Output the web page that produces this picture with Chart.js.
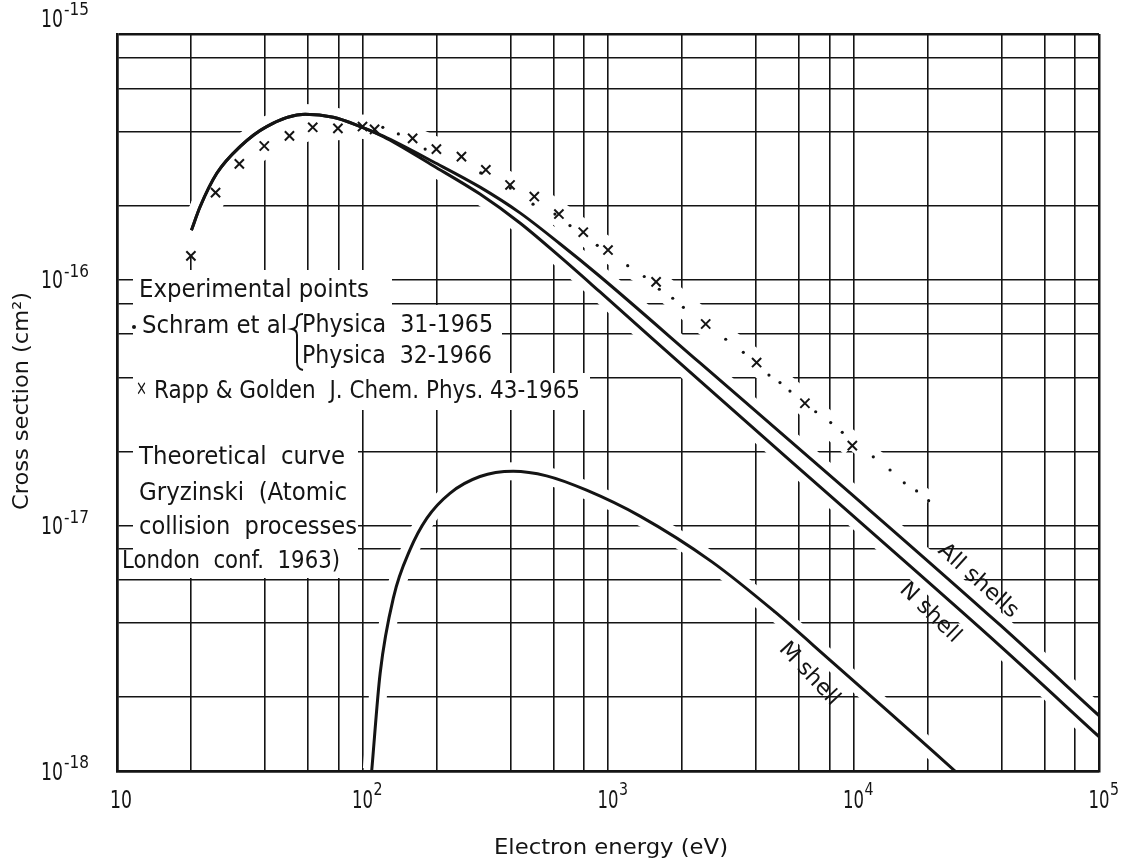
<!DOCTYPE html>
<html>
<head>
<meta charset="utf-8">
<script src="https://cdn.jsdelivr.net/npm/chart.js@4/dist/chart.umd.min.js"></script>
<style>
html,body{margin:0;padding:0;background:#fff;}
#wrap{width:1125px;height:864px;position:relative;}
</style>
</head>
<body>
<div id="wrap"><canvas id="c" width="1125" height="864"></canvas></div>
<script>
// ---- grid / tick values ----
const xGridValues = [10,20,40,60,80,100,200,400,600,800,1000,2000,4000,6000,8000,10000,20000,40000,60000,80000,100000];
const yGridValues = [1e-18,2e-18,4e-18,6e-18,8e-18,1e-17,2e-17,4e-17,6e-17,8e-17,1e-16,2e-16,4e-16,6e-16,8e-16,1e-15];
const xLabelValues = [10,100,1000,10000,100000];
const xLabelExps = ['', '2', '3', '4', '5'];
const yLabelValues = [1e-15,1e-16,1e-17,1e-18];
const yLabelExps = ['-15','-16','-17','-18'];

// ---- theoretical curves (Gryzinski) ----
const allShellsE = [20.1, 21.8, 25.5, 31.7, 40.7, 58.4, 76, 94.6, 121.6, 194, 301, 438, 637, 928, 2370, 9676, 39520, 100000];
const allShellsS = [1.59e-16, 1.98e-16, 2.71e-16, 3.48e-16, 4.2e-16, 4.71e-16, 4.58e-16, 4.26e-16, 3.84e-16, 3.02e-16, 2.38e-16, 1.87e-16, 1.40e-16, 1.03e-16, 4.58e-17, 1.355e-17, 3.93e-18, 1.68e-18];

const nShellE = [20.1, 21.8, 25.5, 31.7, 40.7, 58.4, 76, 94.6, 121.6, 194, 301, 438, 637, 928, 2370, 9676, 39520, 100000];
const nShellS = [1.59e-16, 1.98e-16, 2.71e-16, 3.48e-16, 4.2e-16, 4.71e-16, 4.58e-16, 4.26e-16, 3.82e-16, 2.91e-16, 2.23e-16, 1.70e-16, 1.24e-16, 8.91e-17, 3.87e-17, 1.12e-17, 3.23e-18, 1.38e-18];

const mShellE = [109, 118, 134, 156, 183, 227, 301, 411, 562, 818, 1350, 2652, 4788, 8022, 14210, 25910];
const mShellS = [1e-18, 2.5e-18, 5.13e-18, 7.94e-18, 1.07e-17, 1.35e-17, 1.58e-17, 1.66e-17, 1.59e-17, 1.39e-17, 1.09e-17, 7.1e-18, 4.44e-18, 2.83e-18, 1.71e-18, 1e-18];

// ---- experimental points ----
const rappE = [20, 25.2, 31.5, 39.8, 50.4, 62.7, 79.4, 100, 112, 160, 200, 253, 318, 399, 501, 631, 793, 1000, 1570, 2500, 4030, 6340, 9890];
const rappS = [1.25e-16, 2.26e-16, 2.96e-16, 3.5e-16, 3.85e-16, 4.17e-16, 4.13e-16, 4.2e-16, 4.09e-16, 3.76e-16, 3.4e-16, 3.17e-16, 2.8e-16, 2.43e-16, 2.18e-16, 1.85e-16, 1.56e-16, 1.32e-16, 9.8e-17, 6.6e-17, 4.6e-17, 3.14e-17, 2.11e-17];

const schramE = [121, 140, 180, 303, 400, 495, 608, 700, 904, 1203, 1405, 1618, 1835, 2028, 3016, 3558, 4525, 5018, 5510, 7015, 8075, 9000, 12040, 14090, 16100, 18070, 20230];
const schramS = [4.17e-16, 3.92e-16, 3.4e-16, 2.72e-16, 2.36e-16, 2.03e-16, 1.85e-16, 1.66e-16, 1.38e-16, 1.14e-16, 1.03e-16, 9.14e-17, 8.4e-17, 7.72e-17, 5.72e-17, 5.06e-17, 4.09e-17, 3.81e-17, 3.52e-17, 2.9e-17, 2.62e-17, 2.39e-17, 1.9e-17, 1.68e-17, 1.49e-17, 1.38e-17, 1.26e-17];

// ---- texts ----
const xTitle = 'Electron energy (eV)';
const yTitle = 'Cross section (cm\u00B2)';
const legendExp = 'Experimental points';
const legendSchram = 'Schram et al';
const legendPhys1 = 'Physica  31-1965';
const legendPhys2 = 'Physica  32-1966';
const legendRapp = 'Rapp & Golden  J. Chem. Phys. 43-1965';
const theoryLines = ['Theoretical  curve', 'Gryzinski  (Atomic', 'collision  processes', 'London  conf.  1963)'];
const curveLabels = ['All shells', 'N shell', 'M shell'];

const FONT = '"DejaVu Sans Condensed", "DejaVu Sans", sans-serif';
const INK = '#141414';

const pts = (xs, ys) => xs.map((x, i) => ({x: x, y: ys[i]}));

function fitText(ctx, txt, x, y, w, size, align, rot) {
  ctx.save();
  ctx.font = size + 'px ' + FONT;
  const m = ctx.measureText(txt).width;
  const sx = w ? w / m : 1;
  ctx.translate(x, y);
  if (rot) ctx.rotate(rot);
  ctx.scale(sx, 1);
  ctx.textBaseline = 'middle';
  ctx.textAlign = align || 'left';
  ctx.fillStyle = INK;
  ctx.fillText(txt, 0, 0);
  ctx.restore();
}

const decorPlugin = {
  id: 'decor',
  beforeDatasetsDraw(chart) {
    const ctx = chart.ctx;
    ctx.save();
    ctx.fillStyle = '#fff';
    // clear grid behind legend text blocks
    ctx.fillRect(133, 270, 225, 308);
    ctx.fillRect(358, 270, 34, 140);
    ctx.fillRect(392, 305, 110, 105);
    ctx.fillRect(502, 373, 88, 37);
    ctx.restore();
  },
  afterDraw(chart) {
    const ctx = chart.ctx;
    const xs = chart.scales.x, ys = chart.scales.y;
    // x tick labels
    xLabelValues.forEach((v, i) => {
      const px = xs.getPixelForValue(v);
      const e = xLabelExps[i];
      const yb = 801;
      if (!e) {
        fitText(ctx, '10', px + 4, yb, 22, 25, 'center');
      } else {
        fitText(ctx, '10', px, yb, 21, 25, 'center');
        fitText(ctx, e, px + 11, yb - 10, 9, 17, 'left');
      }
    });
    // y tick labels
    yLabelValues.forEach((v, i) => {
      const py = ys.getPixelForValue(v);
      const yc = (py < chart.chartArea.top + 5) ? py - 14 : py + 2;
      const e = yLabelExps[i];
      fitText(ctx, e, 89, yc - 9, 25, 17, 'right');
      fitText(ctx, '10', 63, yc, 22, 25, 'right');
    });
    // axis titles
    fitText(ctx, xTitle, 611, 848, 234, 22, 'center');
    fitText(ctx, yTitle, 22, 401, 218, 22, 'center', -Math.PI / 2);

    // legend block
    fitText(ctx, legendExp, 139, 291, 230, 24, 'left');
    ctx.save();
    ctx.fillStyle = INK;
    ctx.beginPath(); ctx.arc(134, 327, 2, 0, Math.PI * 2); ctx.fill();
    ctx.restore();
    fitText(ctx, legendSchram, 142, 327, 145, 24, 'left');
    // brace
    ctx.save();
    ctx.strokeStyle = INK; ctx.lineWidth = 2;
    ctx.beginPath();
    ctx.moveTo(303, 314);
    ctx.quadraticCurveTo(297, 314, 297, 320);
    ctx.lineTo(297, 324);
    ctx.quadraticCurveTo(297, 328, 292, 329);
    ctx.quadraticCurveTo(297, 330, 297, 335);
    ctx.lineTo(297, 362);
    ctx.quadraticCurveTo(297, 369, 303, 370);
    ctx.stroke();
    ctx.restore();
    fitText(ctx, legendPhys1, 302, 326, 191, 24, 'left');
    fitText(ctx, legendPhys2, 302, 357, 190, 24, 'left');
    fitText(ctx, '\u00D7', 136, 389, 11, 22, 'left');
    fitText(ctx, legendRapp, 154, 392, 426, 24, 'left');
    const thY = [458, 494, 528, 562];
    const thX = [139, 139, 139, 122];
    const thW = [206, 208, 218, 218];
    theoryLines.forEach((t, i) => fitText(ctx, t, thX[i], thY[i], thW[i], 24, 'left'));

    // curve labels
    fitText(ctx, curveLabels[0], 978, 581, 100, 22, 'center', 42 * Math.PI / 180);
    fitText(ctx, curveLabels[1], 930, 613, 76, 22, 'center', 44 * Math.PI / 180);
    fitText(ctx, curveLabels[2], 809, 674, 78, 22, 'center', 47 * Math.PI / 180);
  }
};

const haloBase = {
  showLine: true, pointRadius: 0, borderColor: '#ffffff', backgroundColor: '#ffffff',
  clip: -3, order: 10, cubicInterpolationMode: 'monotone'
};
const curveBase = {
  showLine: true, pointRadius: 0, borderColor: INK, borderWidth: 3,
  cubicInterpolationMode: 'monotone', order: 2
};

const lastX = xGridValues.length - 1, lastY = yGridValues.length - 1;

new Chart(document.getElementById('c').getContext('2d'), {
  type: 'scatter',
  data: {
    datasets: [
      Object.assign({}, haloBase, {label: 'h1', data: pts(allShellsE, allShellsS), borderWidth: 20}),
      Object.assign({}, haloBase, {label: 'h2', data: pts(nShellE, nShellS), borderWidth: 20}),
      Object.assign({}, haloBase, {label: 'h3', data: pts(mShellE, mShellS), borderWidth: 18}),
      Object.assign({}, haloBase, {label: 'h4', data: pts(rappE, rappS), borderWidth: 24, cubicInterpolationMode: 'default', tension: 0}),
      Object.assign({}, haloBase, {label: 'h5', data: pts(schramE, schramS), borderWidth: 18, cubicInterpolationMode: 'default', tension: 0}),
      Object.assign({}, curveBase, {label: 'All shells', data: pts(allShellsE, allShellsS)}),
      Object.assign({}, curveBase, {label: 'N shell', data: pts(nShellE, nShellS)}),
      Object.assign({}, curveBase, {label: 'M shell', data: pts(mShellE, mShellS)}),
      {label: 'Rapp & Golden', data: pts(rappE, rappS), pointStyle: 'crossRot', pointRadius: 6.5,
       borderColor: INK, backgroundColor: INK, pointBorderWidth: 2, showLine: false, order: 1},
      {label: 'Schram et al', data: pts(schramE, schramS), pointStyle: 'circle', pointRadius: 1.6,
       borderColor: INK, backgroundColor: INK, pointBorderWidth: 0, showLine: false, order: 1}
    ]
  },
  options: {
    responsive: false,
    animation: false,
    devicePixelRatio: 1,
    layout: {padding: {left: 0, right: 26, top: 34, bottom: 0}},
    plugins: {legend: {display: false}, tooltip: {enabled: false}},
    scales: {
      x: {
        type: 'logarithmic', min: 10, max: 100000,
        afterBuildTicks: s => { s.ticks = xGridValues.map(v => ({value: v})); },
        afterFit: s => { s.height = 864 - 771; },
        ticks: {display: false},
        grid: {color: INK, lineWidth: c => (c.index === 0 || c.index === lastX) ? 2.5 : 1.6, drawTicks: false},
        border: {display: true, color: INK, width: 2.5}
      },
      y: {
        type: 'logarithmic', min: 1e-18, max: 1e-15,
        afterBuildTicks: s => { s.ticks = yGridValues.map(v => ({value: v})); },
        afterFit: s => { s.width = 117; },
        ticks: {display: false},
        grid: {color: INK, lineWidth: c => (c.index === 0 || c.index === lastY) ? 2.5 : 1.6, drawTicks: false},
        border: {display: true, color: INK, width: 2.5}
      }
    }
  },
  plugins: [decorPlugin]
});
</script>
</body>
</html>
